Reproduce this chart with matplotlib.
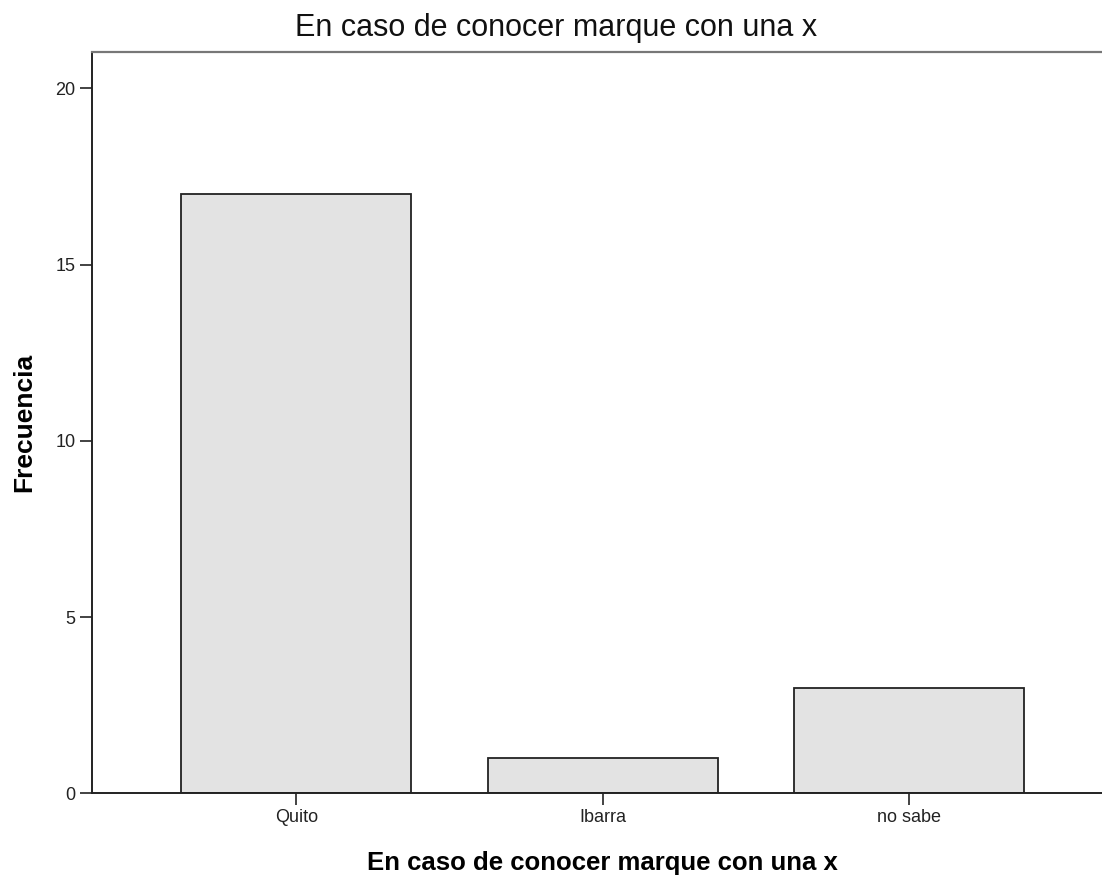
import matplotlib
matplotlib.use("Agg")
import matplotlib.pyplot as plt

categorias = ["Quito", "Ibarra", "no sabe"]
frecuencias = [17, 1, 3]
yticks = [0, 5, 10, 15, 20]

titulo = "En caso de conocer marque con una x"

plt.rcParams['font.family'] = ['Liberation Sans', 'DejaVu Sans']

fig = plt.figure(figsize=(11.02, 8.75), dpi=100)
# axes run a bit past the right edge, like the original export
ax = fig.add_axes([91.7 / 1102, 1 - 793.3 / 875, 1022.3 / 1102, (793.3 - 51.7) / 875])

x = list(range(len(categorias)))
ax.bar(x, frecuencias, width=0.75, color="#e3e3e3", edgecolor="#222222", linewidth=1.3, zorder=2)

ax.set_xlim(-0.667, 2.667)
ax.set_ylim(0, 21.04)
ax.set_xticks(x)
ax.set_xticklabels(categorias)
ax.set_yticks(yticks)

ax.tick_params(axis="both", length=8.6, width=1.2, color="#222222",
               labelsize=13, labelcolor="#222222", pad=3)

ax.spines["right"].set_visible(False)
ax.spines["top"].set_color("#777777")
ax.spines["top"].set_linewidth(1.6)
for s in ["left", "bottom"]:
    ax.spines[s].set_color("#222222")
    ax.spines[s].set_linewidth(1.4)

ax.set_xlabel(titulo, fontsize=18.5, fontweight="bold", labelpad=18)
ax.set_ylabel("Frecuencia", fontsize=19, fontweight="bold")
ax.yaxis.set_label_coords(24 / 1102, 0.5 * (2 - 793.3 / 875 - 51.7 / 875), transform=fig.transFigure)
ax.yaxis.label.set_verticalalignment("center")

fig.text(556 / 1102, 1 - 36 / 875, titulo, fontsize=22, ha="center", va="baseline", color="#111111")

fig.savefig("out.png", dpi=100)
